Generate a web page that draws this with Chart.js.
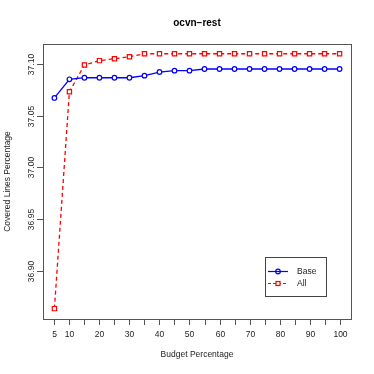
<!DOCTYPE html>
<html>
<head>
<meta charset="utf-8">
<script src="https://cdn.jsdelivr.net/npm/chart.js@4/dist/chart.umd.min.js"></script>
<style>
  html, body { margin: 0; padding: 0; background: #fff; }
  #wrap { width: 374px; height: 374px; }
</style>
</head>
<body>
<div id="wrap"><canvas id="chart"></canvas></div>
<script>
const budgets = [5, 10, 15, 20, 25, 30, 35, 40, 45, 50, 55, 60, 65, 70, 75, 80, 85, 90, 95, 100];
const baseValues = [37.067, 37.085, 37.0865, 37.0865, 37.0865, 37.0865, 37.0885, 37.092, 37.0933, 37.0933,
  37.0949, 37.0949, 37.0949, 37.0949, 37.0949, 37.0949, 37.0949, 37.0949, 37.0949, 37.0949];
const allValues = [36.864, 37.073, 37.0987, 37.103, 37.1048, 37.1067, 37.1096, 37.1096, 37.1096, 37.1096,
  37.1096, 37.1096, 37.1096, 37.1096, 37.1096, 37.1096, 37.1096, 37.1096, 37.1096, 37.1096];
const xTicks = [5, 10, 15, 20, 25, 30, 35, 40, 45, 50, 55, 60, 65, 70, 75, 80, 85, 90, 95, 100];
const xTickLabels = ['5', '10', '', '20', '', '30', '', '40', '', '50', '', '60', '', '70', '', '80', '', '90', '', '100'];
const yTicks = [36.90, 36.95, 37.00, 37.05, 37.10];
const yTickLabels = ['36.90', '36.95', '37.00', '37.05', '37.10'];

const FONT = '"Liberation Sans", Arial, sans-serif';

// R-style frame, ticks, labels and legend
const rAxes = {
  id: 'rAxes',
  afterDraw(chart) {
    const ctx = chart.ctx;
    const a = chart.chartArea;
    const xs = chart.scales.x;
    const ys = chart.scales.y;
    ctx.save();
    ctx.strokeStyle = '#555';
    ctx.lineWidth = 1;
    ctx.strokeRect(a.left + 0.5, a.top + 0.5, a.right - a.left, a.bottom - a.top);

    ctx.fillStyle = '#222';
    ctx.font = '8.5px ' + FONT;
    ctx.textAlign = 'center';
    ctx.textBaseline = 'middle';
    xTicks.forEach((t, i) => {
      const px = Math.round(xs.getPixelForValue(t)) + 0.5;
      ctx.beginPath();
      ctx.moveTo(px, a.bottom);
      ctx.lineTo(px, a.bottom + 6);
      ctx.stroke();
      if (xTickLabels[i]) ctx.fillText(xTickLabels[i], px, 335);
    });
    yTicks.forEach((t, i) => {
      const py = Math.round(ys.getPixelForValue(t)) + 0.5;
      ctx.beginPath();
      ctx.moveTo(a.left, py);
      ctx.lineTo(a.left - 6, py);
      ctx.stroke();
      ctx.save();
      ctx.translate(32, py);
      ctx.rotate(-Math.PI / 2);
      ctx.fillText(yTickLabels[i], 0, 0);
      ctx.restore();
    });

    ctx.fillText('Budget Percentage', (a.left + a.right) / 2, 355);
    ctx.save();
    ctx.translate(8, (a.top + a.bottom) / 2);
    ctx.rotate(-Math.PI / 2);
    ctx.fillText('Covered Lines Percentage', 0, 0);
    ctx.restore();

    ctx.font = 'bold 10px ' + FONT;
    ctx.fillStyle = '#000';
    ctx.fillText('ocvn\u2212rest', (a.left + a.right) / 2, 23);

    // legend
    ctx.strokeStyle = '#444';
    ctx.strokeRect(265.5, 257.5, 61, 39);
    ctx.font = '8.5px ' + FONT;
    ctx.textAlign = 'left';
    ctx.fillStyle = '#222';
    ctx.strokeStyle = '#0000ff';
    ctx.lineWidth = 1.2;
    ctx.beginPath(); ctx.moveTo(268, 271.5); ctx.lineTo(288, 271.5); ctx.stroke();
    ctx.beginPath(); ctx.arc(278, 271.5, 2.3, 0, Math.PI * 2); ctx.stroke();
    ctx.fillText('Base', 297, 271.5);
    ctx.strokeStyle = '#ff0000';
    ctx.setLineDash([3, 2]);
    ctx.beginPath(); ctx.moveTo(268, 283.5); ctx.lineTo(288, 283.5); ctx.stroke();
    ctx.setLineDash([]);
    ctx.fillStyle = '#fff';
    ctx.fillRect(276, 281.5, 4, 4);
    ctx.strokeRect(276, 281.5, 4, 4);
    ctx.fillStyle = '#222';
    ctx.fillText('All', 297, 283.5);
    ctx.restore();
  }
};

new Chart(document.getElementById('chart'), {
  type: 'line',
  data: {
    datasets: [{
      label: 'Base',
      data: budgets.map((b, i) => ({ x: b, y: baseValues[i] })),
      borderColor: '#0000ff',
      borderWidth: 1.3,
      pointStyle: 'circle',
      pointRadius: 2.3,
      pointBorderColor: '#0000ff',
      pointBackgroundColor: '#fff',
      pointBorderWidth: 1.2,
      tension: 0
    }, {
      label: 'All',
      data: budgets.map((b, i) => ({ x: b, y: allValues[i] })),
      borderColor: '#ff0000',
      borderWidth: 1.3,
      borderDash: [4, 3],
      pointStyle: 'rect',
      pointRadius: 3,
      pointBorderColor: '#ff0000',
      pointBackgroundColor: '#fff',
      pointBorderWidth: 1.2,
      tension: 0
    }]
  },
  options: {
    responsive: true,
    maintainAspectRatio: false,
    animation: false,
    layout: { padding: { left: 43, top: 44, right: 23, bottom: 55 } },
    plugins: { legend: { display: false }, tooltip: { enabled: false } },
    scales: {
      x: { type: 'linear', display: false, min: 1.2, max: 103.8 },
      y: { type: 'linear', display: false, min: 36.854, max: 37.119 }
    }
  },
  plugins: [rAxes]
});
</script>
</body>
</html>
